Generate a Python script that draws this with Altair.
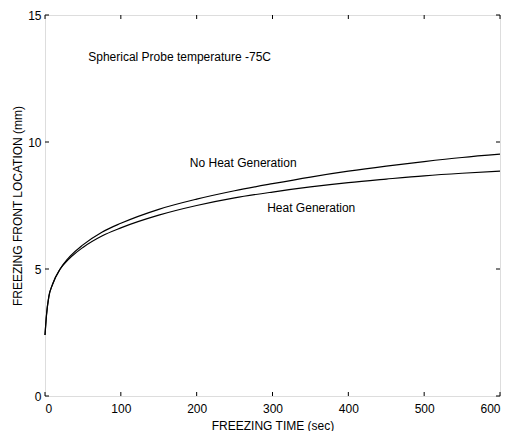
import altair as alt
import pandas as pd

time_s = [0, 2, 5, 10, 20, 30, 50, 75, 100, 150, 200, 250, 300, 350, 400, 450, 500, 550, 600]
no_heat = [2.4, 3.2, 3.9, 4.4, 5.0, 5.4, 5.95, 6.45, 6.8, 7.35, 7.75, 8.08, 8.36, 8.62, 8.85, 9.05, 9.23, 9.39, 9.52]
heat = [2.4, 3.2, 3.9, 4.4, 5.0, 5.35, 5.85, 6.3, 6.62, 7.12, 7.5, 7.8, 8.03, 8.23, 8.4, 8.54, 8.67, 8.77, 8.85]

x_ticks = [0, 100, 200, 300, 400, 500, 600]
y_ticks = [0, 5, 10, 15]

notes_text = ["Spherical Probe temperature -75C", "No Heat Generation", "Heat Generation"]
notes_x = [57, 191, 293]
notes_y = [13.36, 9.19, 7.39]

FONT = "Liberation Sans"
W, H = 455, 381

rows = []
for t, a, b in zip(time_s, no_heat, heat):
    rows.append({"t": t, "v": a, "s": "No Heat Generation"})
    rows.append({"t": t, "v": b, "s": "Heat Generation"})
df = pd.DataFrame(rows)

xs = alt.Scale(domain=[0, 600], nice=False, zero=False)
ys = alt.Scale(domain=[0, 15], nice=False, zero=False)

lines = alt.Chart(df).mark_line(color="black", strokeWidth=1.2, interpolate="monotone").encode(
    x=alt.X("t:Q", scale=xs, axis=alt.Axis(
        values=x_ticks, tickSize=0, labelPadding=7, grid=False, domain=False,
        title="FREEZING TIME (sec)", titleX=W / 2, titleY=29, titleBaseline="middle",
        labelFont=FONT, labelFontSize=12, labelColor="black",
        titleFont=FONT, titleFontSize=12, titleFontWeight="normal", titleColor="black")),
    y=alt.Y("v:Q", scale=ys, axis=alt.Axis(
        values=y_ticks, tickSize=0, labelPadding=4, grid=False, domain=False,
        title="FREEZING FRONT LOCATION (mm)", titleX=-28, titleY=H / 2, titleAngle=-90,
        titleAlign="center", titleBaseline="middle",
        labelFont=FONT, labelFontSize=12, labelColor="black",
        titleFont=FONT, titleFontSize=12, titleFontWeight="normal", titleColor="black")),
    detail="s:N",
)

xt = pd.DataFrame({"t": x_ticks})
yt = pd.DataFrame({"v": y_ticks})
tick_bottom = alt.Chart(xt).mark_rule(color="black", strokeWidth=1).encode(
    x=alt.X("t:Q", scale=xs), y=alt.value(H), y2=alt.value(H - 4))
tick_top = alt.Chart(xt).mark_rule(color="black", strokeWidth=1).encode(
    x=alt.X("t:Q", scale=xs), y=alt.value(0), y2=alt.value(4))
tick_left = alt.Chart(yt).mark_rule(color="black", strokeWidth=1).encode(
    y=alt.Y("v:Q", scale=ys), x=alt.value(0), x2=alt.value(4))
tick_right = alt.Chart(yt).mark_rule(color="black", strokeWidth=1).encode(
    y=alt.Y("v:Q", scale=ys), x=alt.value(W), x2=alt.value(W - 4))

notes = pd.DataFrame({"txt": notes_text, "t": notes_x, "v": notes_y})
texts = alt.Chart(notes).mark_text(align="left", baseline="middle", font=FONT,
                                   fontSize=12, color="black").encode(
    x=alt.X("t:Q", scale=xs), y=alt.Y("v:Q", scale=ys), text="txt:N")

chart = alt.layer(lines, tick_bottom, tick_top, tick_left, tick_right, texts).properties(
    width=W, height=H,
    autosize=alt.AutoSizeParams(type="none"),
    padding={"left": 37, "top": 7, "right": 12, "bottom": 35},
).configure_view(stroke="black", strokeWidth=1).configure(background="white")

chart.save("out.html", embed_options={"renderer": "svg", "actions": False})
